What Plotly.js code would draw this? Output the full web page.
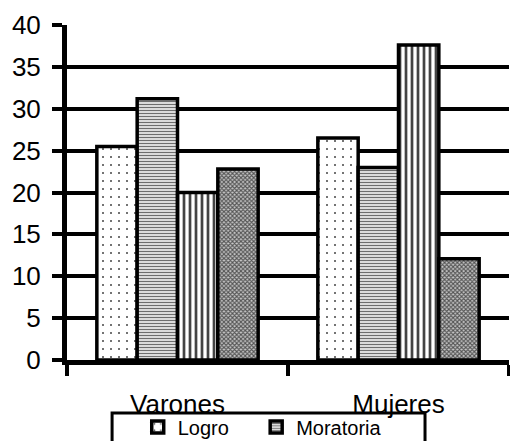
<!DOCTYPE html>
<html>
<head>
<meta charset="utf-8">
<script src="https://cdn.plot.ly/plotly-3.0.1.min.js"></script>
<style>html,body{margin:0;padding:0;overflow:hidden;background:#fff;}#chart{width:510px;height:441px;}</style>
</head>
<body>
<div id="chart"></div>
<script>
var categories = ["Varones", "Mujeres"];
var seriesNames = ["Logro", "Moratoria", "Exclusión", "Difusión"];
var logro = [25.5, 26.5];
var moratoria = [31.2, 23.0];
var exclusion = [20.0, 37.6];
var difusion = [22.8, 12.1];
var yTicks = [0, 5, 10, 15, 20, 25, 30, 35, 40];

var values = [logro, moratoria, exclusion, difusion];
var legendIds = ["legend", "legend2", "legend", "legend"];
var patterns = [
  {shape: ".", size: 8, solidity: 0.05, fgcolor: "#444", bgcolor: "#fff", fillmode: "replace"},
  {shape: "-", size: 3, solidity: 0.5, fgcolor: "#6e6e6e", bgcolor: "#fff", fillmode: "replace"},
  {shape: "|", size: 6, solidity: 0.45, fgcolor: "#444", bgcolor: "#fff", fillmode: "replace"},
  {shape: "x", size: 3, solidity: 0.6, fgcolor: "#555", bgcolor: "#c8c8c8", fillmode: "replace"}
];

var traces = values.map(function (v, i) {
  return {
    type: "bar",
    name: seriesNames[i],
    x: categories,
    y: v,
    showlegend: i < 2,
    legend: legendIds[i],
    marker: {color: "#fff", pattern: patterns[i], line: {color: "#000", width: 3.5}}
  };
});

var font = "Liberation Sans, Arial, sans-serif";
var legendBase = {
  orientation: "h",
  xanchor: "left",
  y: -0.142,
  yanchor: "top",
  bgcolor: "rgba(0,0,0,0)",
  borderwidth: 0,
  itemwidth: 30,
  font: {family: font, size: 20, color: "#000"}
};
var layout = {
  width: 510,
  height: 441,
  margin: {l: 67, r: 1, t: 25, b: 81, autoexpand: false},
  paper_bgcolor: "#fff",
  plot_bgcolor: "#fff",
  barmode: "group",
  bargap: 0.27,
  bargroupgap: 0,
  font: {family: font, color: "#000"},
  xaxis: {
    type: "category",
    tickson: "boundaries",
    ticks: "outside",
    ticklen: 11,
    tickwidth: 4,
    tickcolor: "#000",
    showline: true,
    linewidth: 5,
    linecolor: "#000",
    showgrid: false,
    ticklabelstandoff: 17,
    tickfont: {family: font, size: 26, color: "#000"}
  },
  yaxis: {
    range: [0, 40],
    tickvals: yTicks,
    ticks: "outside",
    ticklen: 10,
    tickwidth: 4,
    tickcolor: "#000",
    showline: true,
    linewidth: 5,
    linecolor: "#000",
    showgrid: true,
    gridwidth: 4,
    gridcolor: "#000",
    zeroline: false,
    ticklabelstandoff: 6,
    tickfont: {family: font, size: 26, color: "#000"}
  },
  legend: Object.assign({}, legendBase, {x: 0.16}),
  legend2: Object.assign({}, legendBase, {x: 0.428}),
  shapes: [{
    type: "rect", xref: "paper", yref: "paper",
    x0: 0.102, x1: 0.81, y0: -0.158, y1: -0.35,
    line: {color: "#000", width: 3}, fillcolor: "rgba(0,0,0,0)"
  }]
};

Plotly.newPlot("chart", traces, layout, {displayModeBar: false, staticPlot: true});
</script>
</body>
</html>
